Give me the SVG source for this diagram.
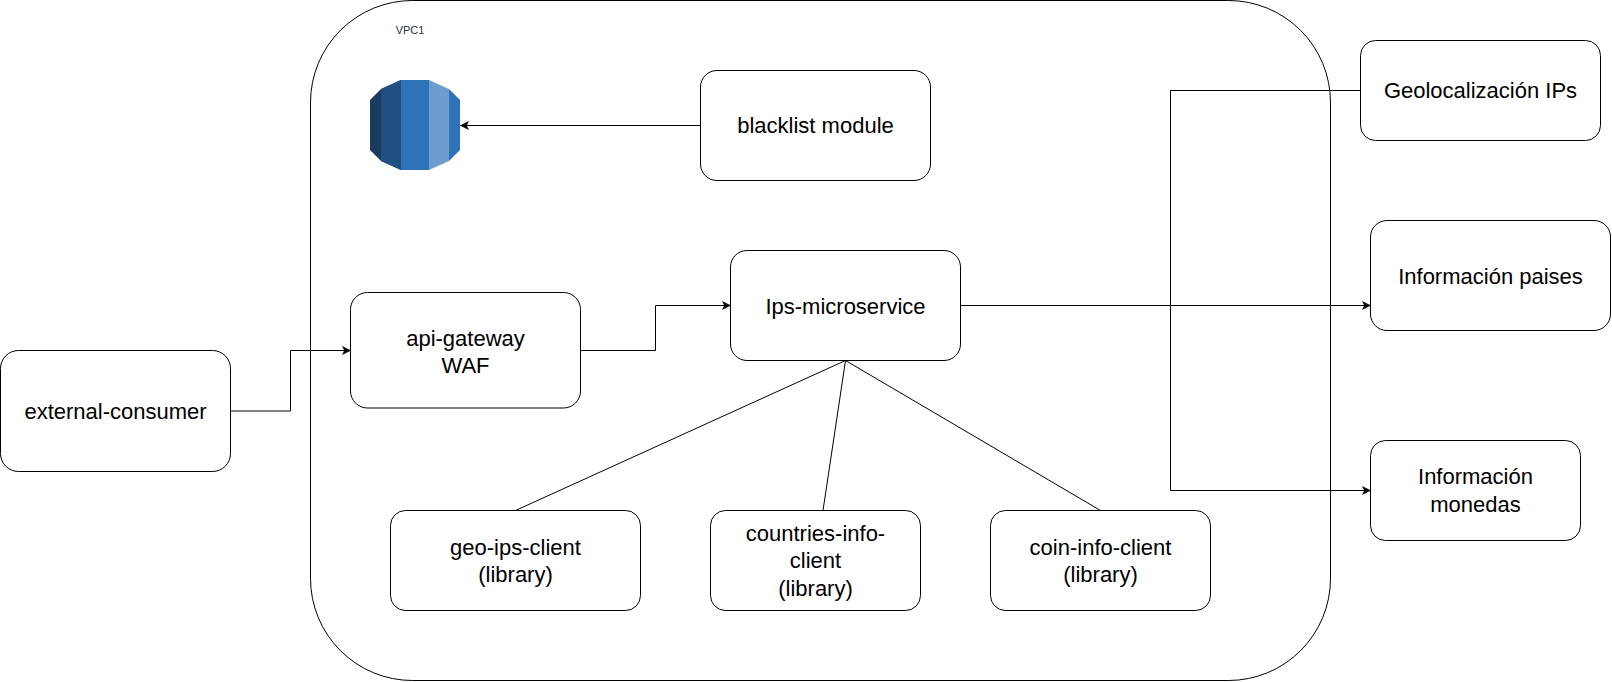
<svg xmlns="http://www.w3.org/2000/svg" width="1612" height="682" viewBox="0 0 1612 682">
<style>
.box{fill:#fff;stroke:#000;stroke-width:1}
.lbl{font-family:"Liberation Sans",Arial,sans-serif;font-size:22px;fill:#000;text-anchor:middle}
.c{fill:none;stroke:#000;stroke-width:1}
</style>
<defs><marker id="a" markerUnits="userSpaceOnUse" markerWidth="10" markerHeight="10" refX="8" refY="4" orient="auto" overflow="visible"><path d="M0 0L8 4L0 8L2 4Z" fill="#000" stroke="#000" stroke-width="0.5"/></marker></defs>
<rect width="1612" height="682" fill="#fff"/>
<g id="vpc"><rect class="box" x="310.500" y="0.500" width="1020" height="680" rx="102" ry="102"/>
<text x="410" y="34" font-family="'Liberation Sans',Arial,sans-serif" font-size="11" fill="#232F3E" text-anchor="middle">VPC1</text></g>
<g id="database">
<path d="M370 100L381 89L401 80V170L381 161L370 150Z" fill="#1A3A5F"/>
<path d="M381 89L401 80V170L381 161Z" fill="#205081"/>
<path d="M401 80H429V170H401Z" fill="#2E73B8"/>
<path d="M429 80L449 89V161L429 170Z" fill="#6D9DCE"/>
<path d="M449 89L460 100V150L449 161Z" fill="#2E73B8"/>
</g>
<g id="blacklist"><rect class="box" x="700.500" y="70.500" width="230" height="110" rx="16.500"/><text class="lbl" x="815.500" y="133">blacklist module</text></g>
<g id="ips"><rect class="box" x="730.500" y="250.500" width="230" height="110" rx="16.500"/><text class="lbl" x="845.500" y="314">Ips-microservice</text></g>
<g id="gateway"><rect class="box" x="350.500" y="292.500" width="230" height="115.500" rx="17"/><text class="lbl" x="465.500" y="346">api-gateway</text><text class="lbl" x="465.500" y="373">WAF</text></g>
<g id="consumer"><rect class="box" x="0.500" y="350.500" width="230" height="121" rx="18"/><text class="lbl" x="115.500" y="419">external-consumer</text></g>
<g id="geo"><rect class="box" x="390.500" y="510.500" width="250" height="100" rx="15"/><text class="lbl" x="515.500" y="555">geo-ips-client</text><text class="lbl" x="515.500" y="582">(library)</text></g>
<g id="countries"><rect class="box" x="710.500" y="510.500" width="210" height="100" rx="15"/><text class="lbl" x="815.500" y="541">countries-info-</text><text class="lbl" x="815.500" y="568">client</text><text class="lbl" x="815.500" y="596">(library)</text></g>
<g id="coin"><rect class="box" x="990.500" y="510.500" width="220" height="100" rx="15"/><text class="lbl" x="1100.500" y="555">coin-info-client</text><text class="lbl" x="1100.500" y="582">(library)</text></g>
<g id="geoloc"><rect class="box" x="1360.500" y="40.500" width="240" height="100" rx="15"/><text class="lbl" x="1480.500" y="98">Geolocalización IPs</text></g>
<g id="paises"><rect class="box" x="1370.500" y="220.500" width="240" height="110" rx="16.500"/><text class="lbl" x="1490.500" y="284">Información paises</text></g>
<g id="monedas"><rect class="box" x="1370.500" y="440.500" width="210" height="100" rx="15"/><text class="lbl" x="1475.500" y="484">Información</text><text class="lbl" x="1475.500" y="512">monedas</text></g>
<g id="connectors">
<path class="c" marker-end="url(#a)" d="M700.500 125.500H460.500"/>
<path class="c" marker-end="url(#a)" d="M230.500 411H290.500V350.500H350.500"/>
<path class="c" marker-end="url(#a)" d="M580.500 350.500H655.500V305.500H730.500"/>
<path class="c" marker-end="url(#a)" d="M960.500 305.500H1370.500"/>
<path class="c" marker-end="url(#a)" d="M1360.500 90.500H1170.500V490.500H1370.500"/>
<path class="c" d="M845.500 360.500L515.500 510.500"/>
<path class="c" d="M845.500 360.500L823 510.500"/>
<path class="c" d="M845.500 360.500L1100.500 510.500"/>
</g>
</svg>
